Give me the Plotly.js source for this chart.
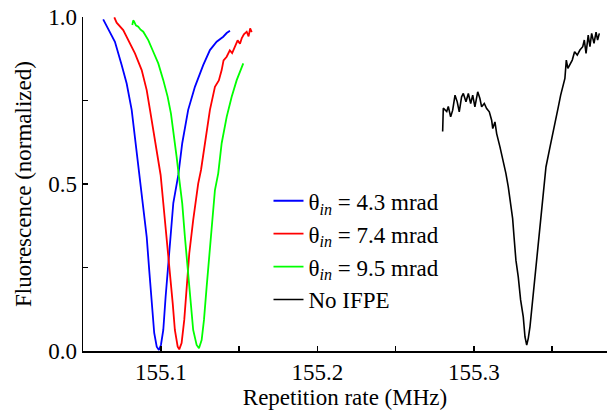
<!DOCTYPE html>
<html>
<head>
<meta charset="utf-8">
<script src="https://cdn.plot.ly/plotly-3.0.1.min.js"></script>
</head>
<body style="margin:0">
<div id="chart"></div>
<script>
// Series names (theta written as a JS escape)
const seriesNames = [
  "\u03B8<sub><i>in</i></sub> = 4.3 mrad",
  "\u03B8<sub><i>in</i></sub> = 7.4 mrad",
  "\u03B8<sub><i>in</i></sub> = 9.5 mrad",
  "No IFPE"
];

// theta_in = 4.3 mrad (blue)
const blueX = [155.0631,155.0663,155.0706,155.0749,155.0781,155.0813,155.0834,155.0861,155.0887,155.0909,155.0925,155.0941,155.0957,155.0973,155.0987,155.1000,155.1015,155.1030,155.1043,155.1058,155.1079,155.1111,155.1136,155.1174,155.1217,155.1270,155.1313,155.1356,155.1398,155.1420,155.1441];
const blueY = [0.993,0.966,0.926,0.856,0.801,0.722,0.642,0.527,0.443,0.342,0.243,0.144,0.054,0.013,0.003,0.018,0.063,0.163,0.243,0.342,0.443,0.527,0.622,0.722,0.791,0.856,0.901,0.926,0.941,0.952,0.959];

// theta_in = 7.4 mrad (red)
const redX = [155.0702,155.0717,155.0759,155.0791,155.0834,155.0877,155.0909,155.0930,155.0957,155.0983,155.0998,155.1015,155.1036,155.1058,155.1075,155.1089,155.1107,155.1117,155.1132,155.1149,155.1164,155.1181,155.1206,155.1238,155.1256,155.1281,155.1313,155.1345,155.1370,155.1388,155.1400,155.1420,155.1440,155.1455,155.1473,155.1490,155.1505,155.1516,155.1530,155.1548,155.1560,155.1570,155.1580];
const redY = [0.999,0.983,0.961,0.931,0.891,0.841,0.781,0.722,0.642,0.562,0.527,0.443,0.342,0.243,0.144,0.063,0.013,0.005,0.024,0.093,0.192,0.292,0.392,0.501,0.542,0.622,0.722,0.791,0.810,0.841,0.870,0.881,0.900,0.892,0.911,0.930,0.920,0.936,0.948,0.956,0.942,0.966,0.955];

// theta_in = 9.5 mrad (green)
const greenX = [155.0817,155.0823,155.0829,155.0840,155.0855,155.0870,155.0887,155.0900,155.0919,155.0951,155.0983,155.1015,155.1043,155.1064,155.1083,155.1100,155.1115,155.1136,155.1153,155.1171,155.1190,155.1206,155.1228,155.1243,155.1260,155.1275,155.1292,155.1309,155.1328,155.1345,155.1366,155.1388,155.1420,155.1452,155.1484,155.1516,155.1526];
const greenY = [0.976,0.990,0.986,0.975,0.971,0.962,0.956,0.945,0.931,0.896,0.861,0.811,0.761,0.711,0.651,0.582,0.522,0.442,0.342,0.243,0.142,0.063,0.018,0.008,0.033,0.093,0.192,0.292,0.392,0.482,0.532,0.622,0.701,0.761,0.811,0.851,0.861];

// No IFPE (black)
const blackX = [155.2800,155.2804,155.2826,155.2836,155.2851,155.2864,155.2879,155.2893,155.2906,155.2921,155.2932,155.2949,155.2964,155.2979,155.2992,155.3006,155.3024,155.3038,155.3049,155.3066,155.3081,155.3098,155.3113,155.3120,155.3134,155.3145,155.3166,155.3187,155.3204,155.3219,155.3235,155.3247,155.3256,155.3268,155.3283,155.3298,155.3315,155.3326,155.3337,155.3347,155.3358,155.3369,155.3383,155.3401,155.3417,155.3433,155.3443,155.3460,155.3486,155.3511,155.3528,155.3539,155.3554,155.3571,155.3581,155.3590,155.3600,155.3628,155.3643,155.3660,155.3677,155.3695,155.3705,155.3716,155.3730,155.3741,155.3752,155.3767,155.3780,155.3790,155.3801];
const blackY = [0.657,0.727,0.717,0.732,0.701,0.721,0.766,0.746,0.716,0.761,0.771,0.746,0.771,0.741,0.766,0.731,0.776,0.756,0.731,0.741,0.726,0.716,0.691,0.666,0.686,0.651,0.611,0.572,0.532,0.492,0.442,0.397,0.342,0.272,0.222,0.153,0.102,0.042,0.018,0.038,0.073,0.123,0.192,0.272,0.362,0.422,0.472,0.551,0.611,0.671,0.716,0.731,0.766,0.796,0.816,0.871,0.846,0.871,0.896,0.886,0.901,0.911,0.931,0.891,0.946,0.911,0.951,0.921,0.955,0.931,0.951];

// Tick settings
const xTickStep = 0.1, xMinorStep = 0.05;
const yTickStep = 0.5, yMinorStep = 0.25;
const xRange = [155.0502, 155.385];
const yRange = [0, 1.0];

const colors = ["#0000ff", "#ff0000", "#00ff00", "#000000"];
const xs = [blueX, redX, greenX, blackX];
const ys = [blueY, redY, greenY, blackY];

const FAM = "Liberation Serif";
function mkFont() { return {family: FAM, size: 23}; }

const traces = xs.map((x, i) => ({
  x: x, y: ys[i], type: "scatter", mode: "lines", name: seriesNames[i],
  line: {color: colors[i], width: i === 3 ? 1.6 : 1.8}
}));

const layout = {
  width: 607, height: 413,
  margin: {l: 83, r: 0, t: 17, b: 62},
  paper_bgcolor: "#fff", plot_bgcolor: "#fff",
  font: {family: FAM, size: 23, color: "#000"},
  showlegend: true,
  legend: {
    x: 0.354, y: 0.514, xanchor: "left", yanchor: "top",
    bgcolor: "rgba(0,0,0,0)", borderwidth: 0,
    font: mkFont(), tracegroupgap: 0
  },
  xaxis: {
    range: xRange, dtick: xTickStep, tick0: 155.1, tickformat: ".1f",
    ticks: "inside", ticklen: 5, tickwidth: 1.5, tickcolor: "#000",
    minor: {dtick: xMinorStep, tick0: 155.05, ticks: "inside", ticklen: 5, tickwidth: 1.5, tickcolor: "#000"},
    showline: true, linecolor: "#000", linewidth: 1.5, mirror: false,
    showgrid: false, zeroline: false,
    title: {text: "Repetition rate (MHz)", font: mkFont(), standoff: 4},
    tickfont: mkFont()
  },
  yaxis: {
    range: yRange, dtick: yTickStep, tick0: 0, tickformat: ".1f",
    ticks: "inside", ticklen: 5, tickwidth: 1.5, tickcolor: "#000",
    minor: {dtick: yMinorStep, tick0: 0, ticks: "inside", ticklen: 5, tickwidth: 1.5, tickcolor: "#000"},
    showline: true, linecolor: "#000", linewidth: 1.5, mirror: false,
    showgrid: false, zeroline: false,
    title: {text: "Fluorescence (normalized)", font: mkFont(), standoff: 10},
    tickfont: mkFont()
  }
};

Plotly.newPlot("chart", traces, layout, {displayModeBar: false, staticPlot: true}).then(function (gd) {
  gd.querySelectorAll("svg text, svg tspan").forEach(function (el) {
    el.style.setProperty("font-family", "'" + FAM + "'", "important");
  });
});
</script>
</body>
</html>
